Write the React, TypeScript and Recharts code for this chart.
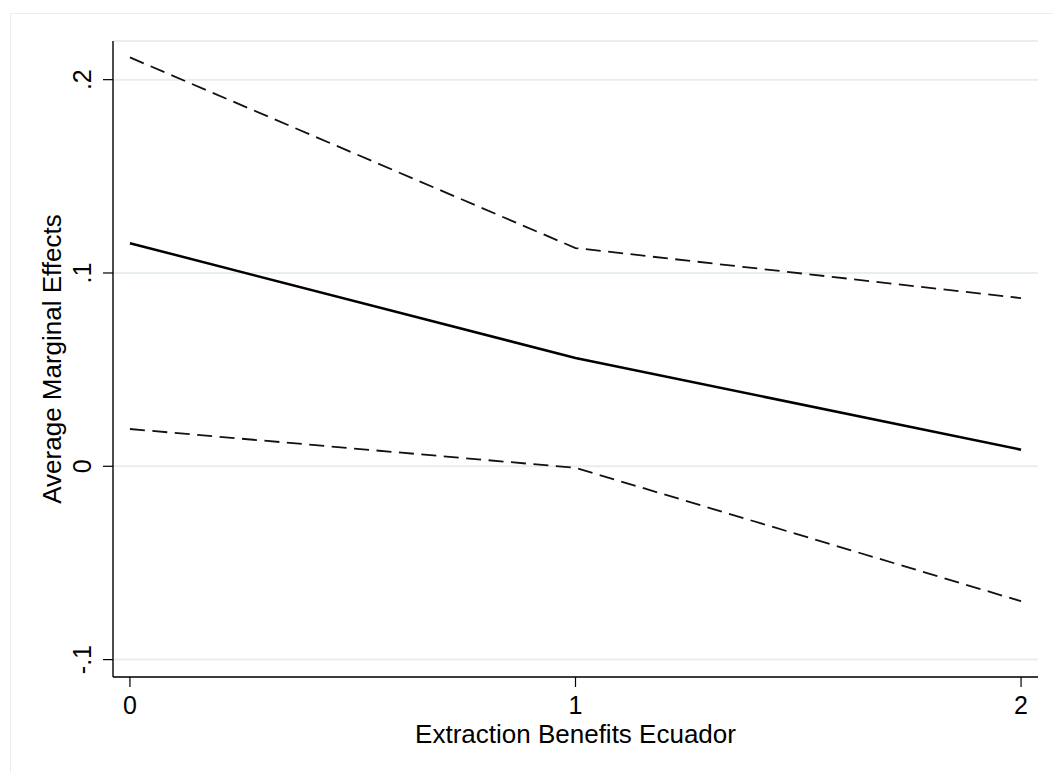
import { LineChart, Line, XAxis, YAxis, CartesianGrid, Label } from "recharts"

const benefits = [0, 1, 2]
const meanEffect = [0.1154, 0.056, 0.0086]
const upperCI = [0.2115, 0.1129, 0.087]
const lowerCI = [0.0193, -0.0008, -0.0698]

const yTicks = [-0.1, 0, 0.1, 0.2]
const yTickLabels = ["-.1", "0", ".1", ".2"]
const xTicks = [0, 1, 2]

const font = "'Liberation Sans', Arial, Helvetica, sans-serif"

const data = benefits.map((b, i) => ({
  x: b,
  mean: meanEffect[i],
  upper: upperCI[i],
  lower: lowerCI[i],
}))

function YTick(props: any) {
  const { x, y, payload } = props
  const idx = yTicks.indexOf(payload.value)
  const label = idx >= 0 ? yTickLabels[idx] : String(payload.value)
  const cx = x - 21
  return (
    <text
      x={cx}
      y={y}
      transform={`rotate(-90 ${cx} ${y})`}
      textAnchor="middle"
      dominantBaseline="central"
      fontSize={25}
      fontFamily={font}
      fill="#000"
    >
      {label}
    </text>
  )
}

export default function App() {
  return (
    <div style={{ position: "absolute", left: 0, top: 0, width: 1053, height: 773, background: "#fff", overflow: "hidden" }}>
      {/* stata-ish outer frame */}
      <div
        style={{
          position: "absolute",
          left: 10,
          top: 13,
          width: 1100,
          height: 800,
          border: "1px solid #e9eff0",
        }}
      />
      <div style={{ position: "absolute", left: 0, top: 0 }}>
        <LineChart width={1053} height={773} data={data} margin={{ top: 41, right: 15, left: 53, bottom: 56 }}>
          <CartesianGrid vertical={false} stroke="#e6eef1" strokeWidth={2} />
          <XAxis
            dataKey="x"
            type="number"
            domain={[-0.038, 2.038]}
            ticks={xTicks}
            allowDataOverflow
            height={40}
            tickSize={10}
            tickMargin={9}
            axisLine={{ stroke: "#000", strokeWidth: 1.4 }}
            tickLine={{ stroke: "#000", strokeWidth: 1.2 }}
            tick={{ fontSize: 25, fontFamily: font, fill: "#000" }}
          >
            <Label
              content={({ viewBox }: any) => (
                <text
                  x={viewBox.x + viewBox.width / 2}
                  y={viewBox.y + 66}
                  textAnchor="middle"
                  fontSize={26}
                  fontFamily={font}
                  fill="#000"
                >
                  Extraction Benefits Ecuador
                </text>
              )}
            />
          </XAxis>
          <YAxis
            type="number"
            domain={[-0.109, 0.22]}
            ticks={yTicks}
            allowDataOverflow
            width={60}
            tickSize={10}
            tickMargin={0}
            axisLine={{ stroke: "#000", strokeWidth: 1.4 }}
            tickLine={{ stroke: "#000", strokeWidth: 1.2 }}
            tick={<YTick />}
          >
            <Label
              content={({ viewBox }: any) => {
                const cx = viewBox.x + viewBox.width - 61
                const cy = viewBox.y + viewBox.height / 2
                return (
                  <text
                    x={cx}
                    y={cy}
                    transform={`rotate(-90 ${cx} ${cy})`}
                    textAnchor="middle"
                    dominantBaseline="central"
                    fontSize={26}
                    fontFamily={font}
                    fill="#000"
                  >
                    Average Marginal Effects
                  </text>
                )
              }}
            />
          </YAxis>
          <Line
            type="linear"
            dataKey="upper"
            stroke="#111"
            strokeWidth={1.8}
            strokeDasharray="15 7.5"
            dot={false}
            activeDot={false}
            isAnimationActive={false}
          />
          <Line
            type="linear"
            dataKey="lower"
            stroke="#111"
            strokeWidth={1.8}
            strokeDasharray="15 7.5"
            dot={false}
            activeDot={false}
            isAnimationActive={false}
          />
          <Line
            type="linear"
            dataKey="mean"
            stroke="#000"
            strokeWidth={2.5}
            dot={false}
            activeDot={false}
            isAnimationActive={false}
          />
        </LineChart>
      </div>
    </div>
  )
}
